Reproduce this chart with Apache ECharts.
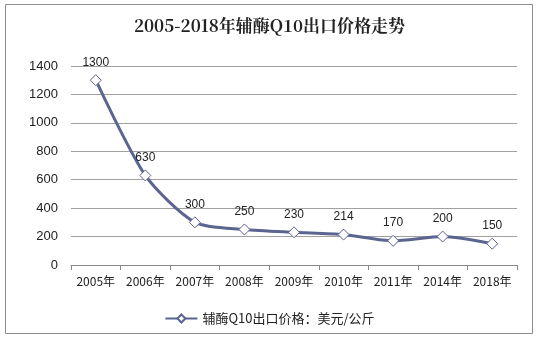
<!DOCTYPE html>
<html><head><meta charset="utf-8">
<script src="https://cdn.jsdelivr.net/npm/echarts@6/dist/echarts.min.js"></script>
<style>html,body{margin:0;padding:0;background:#fff}#c{width:539px;height:340px}</style>
</head><body><div id="c"></div>
<script>
var categories = ['2005年','2006年','2007年','2008年','2009年','2010年','2011年','2014年','2018年'];
var prices = [1300, 630, 300, 250, 230, 214, 170, 200, 150];
var seriesName = '辅酶Q10出口价格：美元/公斤';
var titleText = '2005-2018年辅酶Q10出口价格走势';

var chart = echarts.init(document.getElementById('c'));
chart.setOption({
  animation: false,
  backgroundColor: '#fff',
  graphic: [{type:'rect', shape:{x:5.5,y:4.5,width:527,height:329}, style:{fill:'none', stroke:'#8c8c8c', lineWidth:1}}],
  title: {text: titleText, left: 'center', top: 12,
    textStyle: {fontFamily: 'Noto Serif CJK SC, "Noto Sans CJK SC", serif', fontWeight: 'bold', fontSize: 17, color: '#222'}},
  grid: {left: 71, right: 22, top: 66, bottom: 75},
  legend: {bottom: 10, left: 'center', itemWidth: 32, itemHeight: 10,
    textStyle: {fontFamily: '"Noto Sans CJK SC", sans-serif', fontSize: 13, color: '#222'},
    data: [seriesName]},
  xAxis: {type: 'category', data: categories, boundaryGap: true,
    axisLine: {lineStyle: {color: '#888'}},
    axisTick: {show: true, length: 5, interval: 0, lineStyle: {color: '#888'}},
    axisLabel: {interval: 0, color: '#222', fontSize: 12, fontFamily: '"Noto Sans CJK SC", sans-serif', margin: 10}},
  yAxis: {type: 'value', min: 0, max: 1400, interval: 200,
    axisLine: {show: false}, axisTick: {show: false},
    splitLine: {lineStyle: {color: '#a0a0a0'}},
    axisLabel: {color: '#222', fontSize: 13, fontFamily: 'Liberation Sans, Arial, sans-serif', margin: 13,
      formatter: function (v) { return String(v); }}},
  series: [{name: seriesName, type: 'line', data: prices, smooth: 0.25,
    symbol: 'diamond', symbolSize: 11,
    lineStyle: {color: '#5b6590', width: 3},
    itemStyle: {color: '#fff', borderColor: '#5b6590', borderWidth: 1},
    label: {show: true, position: 'top', distance: 6, color: '#222', fontSize: 12, fontFamily: 'Liberation Sans, Arial, sans-serif'}
  }]
});
</script></body></html>
